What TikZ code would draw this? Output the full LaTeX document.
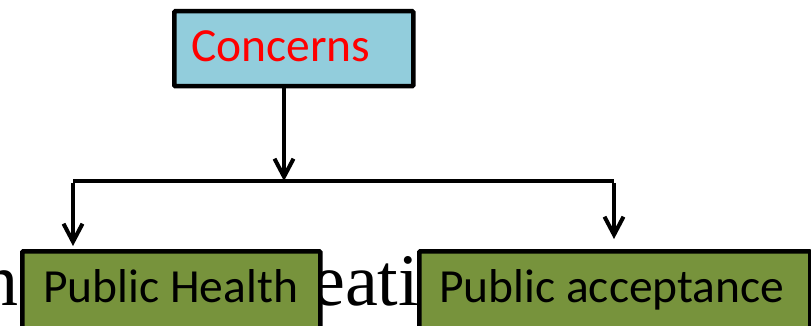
\documentclass[tikz,border=0pt]{standalone}
\usepackage{fontspec}
\setmainfont{Carlito}
\newfontfamily\bgserif{Liberation Serif}
\usetikzlibrary{arrows.meta}
\definecolor{boxblue}{HTML}{92CDDC}
\definecolor{boxgreen}{HTML}{77933C}
\begin{document}
\begin{tikzpicture}[x=1pt,y=-1pt,
  box/.style={draw=black,line width=4.5pt,rounded corners=1pt,inner sep=0pt,anchor=north west},
  boxtext/.style={font=\fontsize{47.5}{52}\selectfont,inner sep=0pt,anchor=base west},
  conn/.style={line width=4pt,draw=black},
  arr/.style={conn,-{Straight Barb[length=18pt,width=19pt,line width=4pt]}}]
\useasboundingbox (0,0) rectangle (811,326);
\clip (0,0) rectangle (811,326);
% background serif text
\node[font=\bgserif\fontsize{74}{80}\selectfont,inner sep=0pt,anchor=base west] (bgn) at (-19,305) {n};
\node[font=\bgserif\fontsize{74}{80}\selectfont,inner sep=0pt,anchor=base west] (bgw) at (312,305) {eatio};
% boxes
\node[box,fill=boxblue,minimum width=239pt,minimum height=75pt] (concerns) at (172,9) {};
\node[box,fill=boxgreen,minimum width=298pt,minimum height=110pt] (ph) at (20,249) {};
\node[box,fill=boxgreen,minimum width=391pt,minimum height=110pt] (pa) at (417,249) {};
% texts
\node[boxtext,text=red] (tc) at (191,62) {Concerns};
\node[boxtext] (tph) at (43,302) {Public Health};
\node[boxtext] (tpa) at (439,302) {Public acceptance};
% connectors
\coordinate (split) at (284,181);
\coordinate (lt) at (73,181);
\coordinate (rt) at (614,181);
\draw[arr] (concerns.south -| split) -- (split);
\draw[conn] (lt) -- (rt);
\draw[arr,shorten >=3pt] ([yshift=-2pt]lt) -- (lt |- ph.north);
\draw[arr,shorten >=10pt] ([yshift=-2pt]rt) -- (rt |- pa.north);
\end{tikzpicture}
\end{document}
